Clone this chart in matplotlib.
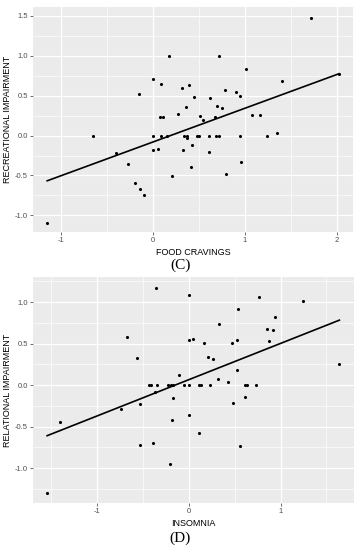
import numpy as np
import matplotlib
matplotlib.use("Agg")
import matplotlib.pyplot as plt
from matplotlib.ticker import MultipleLocator

plt.rcParams['font.family'] = ['Liberation Sans', 'DejaVu Sans']

# ---------------- Panel C data ----------------
food_x = [1.714, 0.174, 0.719, 1.009, 2.02, 0.0, 0.094, 1.403, -0.148, 0.315,
          0.394, 0.448, 0.785, 0.904, 0.947, 0.622, 0.365, 0.701, 0.752, 0.080,
          0.108, 0.271, 0.513, 0.546, 0.672, 1.077, 1.160, 1.349,
          -0.654, 0.0, 0.094, 0.152, 0.340, 0.369, 0.484, 0.503, 0.611, 0.687,
          0.719, 0.947, 1.236, 0.376,
          -0.398, 0.0, 0.061, 0.329, 0.430, 0.611, -0.264, 0.206, 0.409, 0.962,
          0.795, -0.188, -0.141, -0.101, -1.146]
recr_y = [1.479, 0.996, 0.992, 0.838, 0.775, 0.713, 0.650, 0.688, 0.525, 0.600,
          0.638, 0.483, 0.567, 0.546, 0.500, 0.467, 0.354, 0.367, 0.350, 0.233,
          0.233, 0.275, 0.242, 0.196, 0.233, 0.263, 0.254, 0.029,
          0.0, 0.0, 0.0, 0.0, 0.0, 0.0, 0.0, 0.0, 0.0, 0.0,
          0.0, 0.0, 0.0, -0.025,
          -0.217, -0.179, -0.167, -0.179, -0.117, -0.208, -0.358, -0.508, -0.388, -0.333,
          -0.479, -0.596, -0.667, -0.742, -1.092]
fit_c = [0.424, -0.081]  # slope, intercept

# ---------------- Panel D data ----------------
insom_x = [-0.356, 0.0, 0.770, 1.241, 0.541, 0.944, 0.327, 0.849, 0.918, 0.871,
           -0.672, 0.0, 0.047, 0.163, 0.468, 0.530, -0.566, 0.214, 0.261, 1.641,
           0.523, -0.102, 0.316, 0.425, -0.363, -0.174, 0.613, -0.530, 0.479, -0.740,
           -0.436, -0.410, -0.341, -0.221, -0.196, -0.174, -0.054, 0.0, 0.116, 0.131,
           0.229, 0.613, 0.635, 0.730,
           -1.405, 0.0, -0.178, 0.113, -0.534, -0.392, 0.555, -0.200, -1.543]
rel_y = [1.173, 1.092, 1.068, 1.016, 0.912, 0.815, 0.735, 0.679, 0.667, 0.526,
         0.582, 0.542, 0.550, 0.506, 0.502, 0.546, 0.329, 0.333, 0.317, 0.249,
         0.185, 0.120, 0.068, 0.032, -0.084, -0.157, -0.141, -0.229, -0.218, -0.285,
         0.0, 0.0, 0.0, 0.0, 0.0, 0.0, 0.0, 0.0, 0.0, 0.0,
         0.0, 0.0, 0.0, 0.0,
         -0.446, -0.366, -0.418, -0.582, -0.719, -0.695, -0.735, -0.952, -1.301]
fit_d = [0.4375, 0.065]


def gg_panel(ax, x, y, fit, xlim, ylim, xlabel, ylabel, xticks, yticks):
    ax.set_facecolor("#EBEBEB")
    for s in ax.spines.values():
        s.set_visible(False)
    ax.set_xlim(*xlim)
    ax.set_ylim(*ylim)
    ax.set_xticks(xticks)
    ax.xaxis.set_minor_locator(MultipleLocator(0.5))
    ax.set_yticks(yticks)
    ax.yaxis.set_minor_locator(MultipleLocator(0.25))
    ax.grid(True, which="major", color="white", linewidth=0.9)
    ax.grid(True, which="minor", color="white", linewidth=0.45)
    ax.set_axisbelow(True)
    ax.tick_params(which="major", length=2, color="#333333", width=0.5,
                   labelsize=5.5, labelcolor="#4D4D4D", pad=1.5)
    ax.tick_params(which="minor", length=0)
    ax.set_yticklabels([f"{v:.1f}" for v in yticks])
    ax.set_xticklabels([f"{v:d}" for v in xticks])
    ax.scatter(x, y, s=5, color="black", zorder=3, linewidths=0)
    xs = np.array([min(x), max(x)])
    ax.plot(xs, fit[0] * xs + fit[1], color="black", linewidth=1.2, zorder=4)
    ax.set_xlabel(xlabel, fontsize=6.5, labelpad=3)
    ax.set_ylabel(ylabel, fontsize=6.5, labelpad=2)


fig = plt.figure(figsize=(3.61, 5.50), dpi=100)
ax1 = fig.add_axes([0.0914, 0.578, 0.886, 0.409])
gg_panel(ax1, food_x, recr_y, fit_c, (-1.30, 2.17), (-1.21, 1.61),
         "FOOD CRAVINGS", "RECREATIONAL IMPAIRMENT", [-1, 0, 1, 2],
         [-1.0, -0.5, 0.0, 0.5, 1.0, 1.5])

ax2 = fig.add_axes([0.0906, 0.0849, 0.890, 0.411])
gg_panel(ax2, insom_x, rel_y, fit_d, (-1.70, 1.80), (-1.425, 1.30),
         "INSOMNIA", "RELATIONAL IMPAIRMENT", [-1, 0, 1],
         [-1.0, -0.5, 0.0, 0.5, 1.0])

fig.text(0.5, 1 - 265 / 550, "(C)", ha="center", va="center",
         fontsize=11, family="Liberation Serif")
fig.text(0.5, 1 - 538 / 550, "(D)", ha="center", va="center",
         fontsize=11, family="Liberation Serif")

fig.savefig("out.png", dpi=100)
